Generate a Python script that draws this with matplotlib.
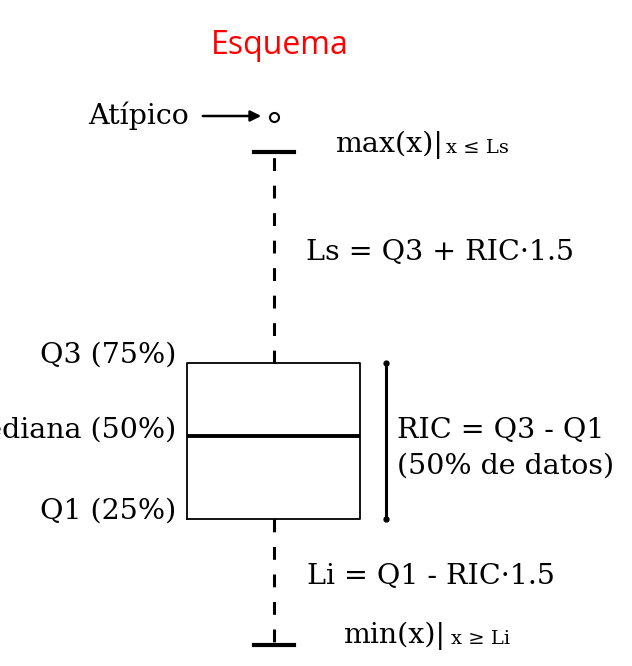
import matplotlib
matplotlib.use('Agg')
import matplotlib.pyplot as plt

# ── Schematic box values (arbitrary units, IQR = 10) ──
Q1 = 20.0
MED = 25.3
Q3 = 30.0
WHIS_LO = 11.9
WHIS_HI = 43.5
OUTLIERS = [45.8]

TITLE = 'Esquema'
SERIF = 'DejaVu Serif'
W, H = 632, 666

fig = plt.figure(figsize=(W / 100, H / 100), dpi=100)
ax = fig.add_axes([0, 0, 1, 1])
ax.set_xlim(0, W)
ax.set_ylim(10.577, 53.269)
ax.axis('off')

stats = [dict(q1=Q1, med=MED, q3=Q3, whislo=WHIS_LO, whishi=WHIS_HI, fliers=OUTLIERS)]
ax.bxp(stats, positions=[273.5], widths=[173], capwidths=[40],
       boxprops=dict(color='black', linewidth=1.3),
       medianprops=dict(color='black', linewidth=2.8),
       whiskerprops=dict(color='black', linewidth=2.2, linestyle=(0, (4.2, 4.8))),
       capprops=dict(color='black', linewidth=3.0),
       flierprops=dict(marker='o', markerfacecolor='none', markeredgecolor='black',
                       markersize=6.5, markeredgewidth=1.5))


def px(x, y):
    # pixel position -> axes fraction
    return x / W, 1 - y / H


kw = dict(transform=ax.transAxes, family=SERIF, fontsize=20.5, color='black')
small = dict(transform=ax.transAxes, family=SERIF, fontsize=14, color='black')

ax.text(*px(280, 45), TITLE, transform=ax.transAxes, ha='center', va='center',
        family='Open Sans', fontsize=23, color='#ff0000')

ax.text(*px(88, 116), 'Atípico', ha='left', va='center', **kw)
ax.annotate('', xy=px(264, 116), xytext=px(200, 116), xycoords='axes fraction',
            arrowprops=dict(arrowstyle='-|>', color='black', lw=1.8, mutation_scale=16))

ax.text(*px(335, 145), 'max(x)|', ha='left', va='center', **kw)
ax.text(*px(446, 148), 'x ≤ Ls', ha='left', va='center', **small)

ax.text(*px(306, 252), 'Ls = Q3 + RIC·1.5', ha='left', va='center', **kw)

ax.text(*px(176, 355), 'Q3 (75%)', ha='right', va='center', **kw)
ax.text(*px(176, 430), 'Mediana (50%)', ha='right', va='center', **kw)
ax.text(*px(176, 511), 'Q1 (25%)', ha='right', va='center', **kw)

# IQR bracket
ax.plot([386, 386], [Q1, Q3], color='black', lw=2.2, marker='o', markersize=3.5)
ax.text(*px(397, 430), 'RIC = Q3 - Q1', ha='left', va='center', **kw)
ax.text(*px(397, 466), '(50% de datos)', ha='left', va='center', **kw)

ax.text(*px(307, 576), 'Li = Q1 - RIC·1.5', ha='left', va='center', **kw)
ax.text(*px(343, 636), 'min(x)|', ha='left', va='center', **kw)
ax.text(*px(451, 639), 'x ≥ Li', ha='left', va='center', **small)

plt.savefig('out.png', dpi=100)
plt.close()
